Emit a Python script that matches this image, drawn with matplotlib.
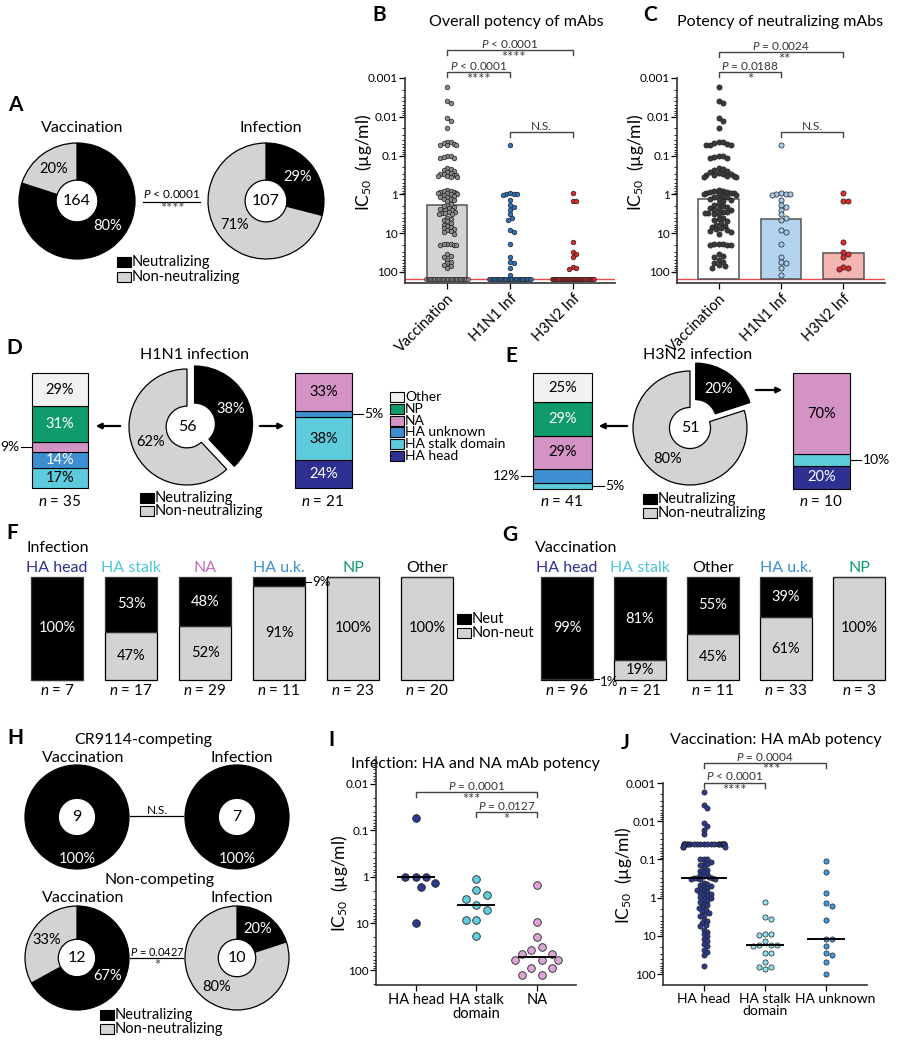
import numpy as np
import matplotlib
matplotlib.use('Agg')
import matplotlib.pyplot as plt
from matplotlib.patches import Rectangle, FancyArrowPatch
from matplotlib.lines import Line2D
from matplotlib.ticker import LogLocator, NullFormatter
from matplotlib.transforms import ScaledTranslation

plt.rcParams['font.family'] = ['Lato', 'DejaVu Sans']
plt.rcParams['mathtext.fontset'] = 'custom'
plt.rcParams['mathtext.rm'] = 'Lato'
plt.rcParams['mathtext.it'] = 'Lato:italic'

# ---------------- data ----------------
# A: all mAbs
a_groups = ['Vaccination', 'Infection']
a_total = [164, 107]
a_neut = [80, 29]

# B / C: IC50 (ug/ml); non-neutralizing mAbs sit on the floor value
groups_bc = ['Vaccination', 'H1N1 Inf', 'H3N2 Inf']
floor_ic50 = 150
vacc_neut = [0.0017, 0.004, 0.0044, 0.011, 0.0126, 0.019,
             0.044, 0.046, 0.048, 0.05, 0.052, 0.053, 0.055,
             0.1, 0.105, 0.11, 0.115, 0.118,
             0.21, 0.22, 0.24, 0.25, 0.27, 0.28, 0.3, 0.3, 0.31, 0.32, 0.33, 0.34, 0.35, 0.35,
             0.75, 0.8, 0.82, 0.85, 0.88, 0.9, 0.92, 0.95, 1.0, 1.0, 1.05, 1.1, 1.15, 1.2, 1.3, 1.35, 1.4, 1.5,
             1.8, 1.9, 2.0, 2.1, 2.3, 2.4, 2.5, 2.6, 2.8, 2.9, 3.0, 3.1, 3.2, 3.3,
             4.0, 4.3, 4.6, 5.0, 5.5, 6.0, 6.5, 7.0, 7.5, 8.0, 8.5, 9.0, 9.5, 10.5,
             19, 19, 19.5, 20, 20, 20.5,
             35, 38, 42, 48, 55, 60, 66, 72, 78]
h1n1_neut = [0.055, 0.95, 1.0, 1.0, 1.0, 1.05, 1.4, 1.9, 2.1, 2.5, 3.3, 4.0, 4.7,
             8.5, 9.3, 19.5, 41, 55, 60, 80, 120]
h3n2_neut = [0.95, 1.45, 1.5, 17, 30, 35, 42, 73, 80, 85]
n_nonneut = [33, 35, 41]
b_bar = [1.9, 150, 150]
c_bar = [1.3, 4.2, 33]

# D / E: specificity breakdown (%), bottom to top
d_total, d_neut = 56, 38
d_non_cats = ['HA stalk domain', 'HA unknown', 'NA', 'NP', 'Other']
d_non_pct = [17, 14, 9, 31, 29]
d_neu_cats = ['HA head', 'HA stalk domain', 'HA unknown', 'NA']
d_neu_pct = [24, 38, 5, 33]
e_total, e_neut = 51, 20
e_non_cats = ['HA stalk domain', 'HA unknown', 'NA', 'NP', 'Other']
e_non_pct = [5, 12, 29, 29, 25]
e_neu_cats = ['HA head', 'HA stalk domain', 'NA']
e_neu_pct = [20, 10, 70]

# F / G: % neutralizing by specificity
f_cats = ['HA head', 'HA stalk', 'NA', 'HA u.k.', 'NP', 'Other']
f_neut = [100, 53, 48, 9, 0, 0]
f_n = [7, 17, 29, 11, 23, 20]
g_cats = ['HA head', 'HA stalk', 'Other', 'HA u.k.', 'NP']
g_neut = [99, 81, 55, 39, 0]
g_n = [96, 21, 11, 33, 3]

# H
h_comp_total = [9, 7]
h_comp_neut = [100, 100]
h_non_total = [12, 10]
h_non_neut = [67, 20]

# I: infection IC50
i_groups = ['HA head', 'HA stalk\ndomain', 'NA']
i_head = [0.055, 1.0, 1.0, 1.0, 1.34, 1.64, 10]
i_stalk = [1.1, 1.96, 2.4, 3.0, 4.1, 5.1, 8.4, 8.4, 18.4]
i_na = [1.5, 9.3, 20, 32, 38, 45, 45, 60, 60, 60, 90, 90, 130, 130]

# J: vaccination IC50
j_groups = ['HA head', 'HA stalk\ndomain', 'HA unknown']
j_head = [0.0017, 0.0038, 0.0044, 0.011, 0.013, 0.017, 0.022,
          0.04, 0.04, 0.04, 0.04, 0.04, 0.04, 0.04, 0.04, 0.04, 0.04, 0.04,
          0.04, 0.04, 0.04, 0.04, 0.04, 0.04, 0.04, 0.04, 0.04, 0.04, 0.04,
          0.046, 0.047, 0.048, 0.1, 0.1, 0.1, 0.12, 0.13, 0.13, 0.14,
          0.17, 0.19, 0.2, 0.22, 0.24, 0.25,
          0.28, 0.29, 0.3, 0.3, 0.31, 0.32, 0.32, 0.33,
          0.41, 0.44, 0.47, 0.5, 0.53, 0.56, 0.59, 0.62,
          0.68, 0.72, 0.76, 0.8, 0.85, 0.9, 0.95, 1.0,
          1.1, 1.2, 1.3, 1.45, 1.6, 1.75, 1.9,
          2.1, 2.3, 2.5, 2.8, 3.0, 3.8, 4.2, 4.6, 5.1, 5.6,
          6.9, 7.8, 8.8, 10, 12, 14, 16, 19, 23, 27, 31, 63]
j_stalk = [1.3, 3.2, 3.6, 9.1, 9.1, 9.5, 14, 17, 17, 17.5, 18, 29, 29, 48, 64, 64, 76]
j_unk = [0.107, 0.22, 0.74, 1.4, 1.7, 3.9, 12.3, 12.3, 18.6, 29, 32, 48, 101]

# ---------------- styles ----------------
BLACK = '#000000'
GRAY = '#d1d3d4'
CAT_COLOR = {'Other': '#f1f1f2', 'NP': '#0f9b6e', 'NA': '#d393c5',
             'HA unknown': '#3d8fd1', 'HA stalk domain': '#5ecbdc', 'HA head': '#2e3192'}
CAT_TXT = {'HA head': '#2e3192', 'HA stalk': '#4fc5da', 'NA': '#c66bb4',
           'HA u.k.': '#3d8fd1', 'NP': '#0f9b6e', 'Other': 'black'}

W, H = 898, 1042
fig = plt.figure(figsize=(W / 100, H / 100), dpi=100)


def box(x0, y0, x1, y1):
    return fig.add_axes([x0 / W, 1 - y1 / H, (x1 - x0) / W, (y1 - y0) / H])


def ft(x, y, s, **kw):
    kw.setdefault('ha', 'center')
    kw.setdefault('va', 'center')
    return fig.text(x / W, 1 - y / H, s, **kw)


def hline(x0, x1, y, color='black', lw=0.9):
    fig.add_artist(Line2D([x0 / W, x1 / W], [1 - y / H, 1 - y / H],
                          transform=fig.transFigure, color=color, lw=lw))


def arrow(x0, x1, y):
    fig.add_artist(FancyArrowPatch((x0 / W, 1 - y / H), (x1 / W, 1 - y / H),
                                   transform=fig.transFigure, arrowstyle='-|>',
                                   mutation_scale=8, lw=1.6, color='black'))


def legend(x, y, items, dy, fs=10.5):
    for k, (label, color) in enumerate(items):
        yy = y + k * dy
        fig.patches.append(Rectangle((x / W, 1 - (yy + 5) / H), 14 / W, 10 / H,
                                     transform=fig.transFigure, fc=color, ec='black', lw=0.8))
        ft(x + 15, yy, label, ha='left', fontsize=fs)


def letter(x, y, s):
    ft(x, y, s, fontsize=15, fontweight='bold')


def donut(cx, cy, r, fracs, colors, center, txt_colors, explode=None,
          label_r=0.68, angles=None, width=0.64):
    pad = 1.3
    ax = box(cx - r * pad, cy - r * pad, cx + r * pad, cy + r * pad)
    wedges, _ = ax.pie(fracs, colors=colors, startangle=90, counterclock=False,
                       explode=explode, radius=1,
                       wedgeprops=dict(width=width, edgecolor='black', linewidth=0.9))
    for w in wedges:
        w.set_clip_on(False)
    ax.set_xlim(-pad, pad)
    ax.set_ylim(-pad, pad)
    ax.set_aspect('equal')
    ax.axis('off')
    ax.text(0, 0, center, ha='center', va='center', fontsize=11.5)
    total = float(sum(fracs))
    cum = 0
    for i, f in enumerate(fracs):
        if f > 0:
            ang = 90 - 360 * (cum + f / 2) / total
            if angles is not None and angles[i] is not None:
                ang = angles[i]
            rr = label_r + (explode[i] if explode else 0)
            ax.text(rr * np.cos(np.radians(ang)), rr * np.sin(np.radians(ang)),
                    f'{f:g}%', color=txt_colors[i], ha='center', va='center', fontsize=10.5)
        cum += f
    return ax


def stack(x0, y0, x1, y1, cats, pcts, modes):
    ax = box(x0, y0, x1, y1)
    bottom = 0
    for c, p, m in zip(cats, pcts, modes):
        ax.bar(0.5, p, width=1, bottom=bottom, color=CAT_COLOR[c], edgecolor='black',
               lw=0.8, clip_on=False)
        mid = bottom + p / 2
        if m == 'L':
            ax.plot([-0.2, 0], [mid, mid], color='black', lw=0.8, clip_on=False)
            ax.text(-0.22, mid, f'{p}%', ha='right', va='center', fontsize=10)
        elif m == 'R':
            ax.plot([1, 1.2], [mid, mid], color='black', lw=0.8, clip_on=False)
            ax.text(1.22, mid, f'{p}%', ha='left', va='center', fontsize=10)
        else:
            ax.text(0.5, mid, f'{p}%', ha='center', va='center', fontsize=10.5,
                    color='white' if m == 'w' else 'black')
        bottom += p
    ax.set_xlim(0, 1)
    ax.set_ylim(0, 100)
    ax.axis('off')
    return ax


def neut_bars(x0, y0, x1, y1, cats, neut, ns, width):
    ax = box(x0, y0, x1, y1)
    xs = np.arange(len(cats))
    non = [100 - v for v in neut]
    ax.bar(xs, non, width=width, color=GRAY, edgecolor='black', lw=0.9, clip_on=False)
    ax.bar(xs, neut, width=width, bottom=non, color=BLACK, edgecolor='#333', lw=0.9,
           clip_on=False)
    hw = width / 2
    for i in xs:
        if neut[i] >= 15:
            ax.text(i, 100 - neut[i] / 2, f'{neut[i]}%', color='white', ha='center',
                    va='center', fontsize=10.5)
        elif neut[i] > 0:
            ax.plot([i + hw, i + hw + 0.08], [100 - neut[i] / 2] * 2, color='black', lw=0.8,
                    clip_on=False)
            ax.text(i + hw + 0.09, 100 - neut[i] / 2, f'{neut[i]}%', ha='left',
                    va='center', fontsize=9.5)
        if non[i] >= 15:
            ax.text(i, non[i] / 2, f'{non[i]}%', color='black', ha='center',
                    va='center', fontsize=10.5)
        elif non[i] > 0:
            ax.plot([i + hw, i + hw + 0.08], [non[i] / 2] * 2, color='black', lw=0.8,
                    clip_on=False)
            ax.text(i + hw + 0.09, -2, f'{non[i]}%', ha='left', va='center', fontsize=9.5)
        ax.text(i, 109, cats[i], color=CAT_TXT[cats[i]], ha='center', va='center',
                fontsize=11.5)
        ax.text(i, -10.5, f'$n$ = {ns[i]}', ha='center', va='center', fontsize=11)
    ax.set_xlim(-0.5, len(cats) - 0.5)
    ax.set_ylim(0, 100)
    ax.axis('off')
    return ax


def swarm(vals, ppd, ppu, dot_px, cap_px):
    # simple beeswarm in pixel space, outer points squeezed toward cap_px
    y = np.log10(np.asarray(vals, float)) * ppd
    order = np.argsort(y)
    px, py = [], []
    off = np.zeros(len(y))
    step = dot_px * 0.5
    for i in order:
        k = 0
        while True:
            cand = step * ((k + 1) // 2) * (1 if k % 2 else -1)
            if all((cand - a) ** 2 + (y[i] - b) ** 2 >= dot_px ** 2 for a, b in zip(px, py)):
                break
            k += 1
        px.append(cand)
        py.append(y[i])
        off[i] = cand
    off = cap_px * np.tanh(off / cap_px)
    return off / ppu


def log_axis(ax, ylo, yhi, ticks, labels, xlim, xlabels, rot, xfs=10.5):
    ax.set_yscale('log')
    ax.set_ylim(ylo, yhi)
    ax.set_yticks(ticks)
    ax.set_yticklabels(labels, fontsize=8.5)
    ax.yaxis.set_minor_locator(LogLocator(base=10, subs=np.arange(2, 10)))
    ax.yaxis.set_minor_formatter(NullFormatter())
    ax.set_xlim(*xlim)
    ax.set_xticks(range(len(xlabels)))
    if rot:
        ax.set_xticklabels(xlabels, rotation=45, ha='right', rotation_mode='anchor',
                           fontsize=xfs)
    else:
        ax.set_xticklabels(xlabels, fontsize=xfs, linespacing=1.0)
    for s in ['top', 'right']:
        ax.spines[s].set_visible(False)
    for s in ['left', 'bottom']:
        ax.spines[s].set_linewidth(1.2)
        ax.spines[s].set_color('#333')
    ax.tick_params(axis='y', which='major', length=4, width=0.9, pad=1)
    ax.tick_params(axis='y', which='minor', length=2, width=0.6)
    ax.tick_params(axis='x', length=4, width=0.9, pad=2)
    ax.patch.set_alpha(0)


def bracket(ax, i0, i1, y_px, top=None, bot=None, bot_dx=0.0):
    pos = ax.get_position()

    def fr(y):
        return ((1 - y / H) - pos.y0) / pos.height
    tr = ax.get_xaxis_transform()
    ax.plot([i0, i0, i1, i1], [fr(y_px + 5), fr(y_px), fr(y_px), fr(y_px + 5)],
            transform=tr, color='#444', lw=1, clip_on=False)
    xm = (i0 + i1) / 2
    if top:
        ax.text(xm, fr(y_px - 0.5), top, transform=tr, ha='center', va='bottom',
                fontsize=8.5, color='#333')
    if bot:
        ax.text(xm + bot_dx, fr(y_px + 0.5), bot, transform=tr, ha='center', va='top',
                fontsize=10.5, color='#444')


IC50 = r'IC$_{50}$  (µg/ml)'

# ---------------- A ----------------
letter(15, 105, 'A')
for cx, name, tot, nv in zip([77, 266], a_groups, a_total, a_neut):
    ft(cx + 5, 128, name, fontsize=11.5)
    donut(cx, 201, 58, [nv, 100 - nv], [BLACK, GRAY], str(tot), ['white', 'black'],
          angles=[-40 if nv > 50 else None, None])
ft(172, 194, r'$P$ < 0.0001', fontsize=8.5)
hline(143, 200, 202)
ft(172, 209, '****', fontsize=10.5, color='#444')
legend(117, 262, [('Neutralizing', BLACK), ('Non-neutralizing', GRAY)], 15)

# ---------------- B / C ----------------
for (x0, x1, title, tx, lx, lt, bars, pal, bar_cols, dot_px, cap, wide) in [
        (405, 615, 'Overall potency of mAbs', 516, 364, 'B', b_bar,
         ['#8a8a8a', '#2f72c0', '#e3262b'], ['#d1d3d4', 'none', 'none'], 3.6, 13, True),
        (677, 885, 'Potency of neutralizing mAbs', 780, 635, 'C', c_bar,
         ['#3a3a3a', '#a5c9ea', '#e02a2a'], ['white', '#b3d3ee', '#f5b5b3'], 4.6, 22, False)]:
    ax = box(x0, 78, x1, 283)
    ppu = (x1 - x0) / 3.333
    ppd = 38.8
    log_axis(ax, 193, 0.001, [0.001, 0.01, 0.1, 1, 10, 100],
             ['0.001', '0.01', '0.1', '1', '10', '100'], (-0.667, 2.667), groups_bc, True)
    ax.axhline(floor_ic50, color='#ef4a4a', lw=1, zorder=1)
    for i, h in enumerate(bars):
        if h < floor_ic50:
            ax.bar(i, h - floor_ic50, bottom=floor_ic50, width=0.65, color=bar_cols[i],
                   edgecolor='#555', lw=1.1, zorder=2)
    for i, vals in enumerate([vacc_neut, h1n1_neut, h3n2_neut]):
        off = swarm(vals, ppd, ppu, dot_px, cap)
        ax.scatter(i + off, vals, s=11 if wide else 14, color=pal[i], edgecolors='#222',
                   linewidths=0.5, zorder=3, clip_on=False)
        if wide:
            fl = np.linspace(-0.33, 0.33, n_nonneut[i])
            ax.scatter(i + fl, [floor_ic50] * n_nonneut[i], s=9, color=pal[i],
                       edgecolors='#222', linewidths=0.4, zorder=3, clip_on=False)
    letter(lx + 15, 15, lt)
    ft(tx, 22, title, fontsize=11.5)
    ft(lx, 162, IC50, rotation=90, fontsize=12.5)
    if wide:
        bracket(ax, 0, 2, 50, r'$P$ < 0.0001', '****', bot_dx=0.06)
        bracket(ax, 0, 1, 72, r'$P$ < 0.0001', '****')
    else:
        bracket(ax, 0, 2, 52, r'$P$ = 0.0024', '**', bot_dx=0.05)
        bracket(ax, 0, 1, 72, r'$P$ = 0.0188', '*')
    bracket(ax, 1, 2, 132, 'N.S.')

# ---------------- D ----------------
letter(14, 348, 'D')
ft(195, 355, 'H1N1 infection', fontsize=11.5)
donut(187, 427, 58, [d_neut, 100 - d_neut], [BLACK, GRAY], str(d_total),
      ['white', 'black'], explode=[0.14, 0])
stack(32, 373, 88, 488, d_non_cats, d_non_pct, ['k', 'w', 'L', 'w', 'k'])
stack(295, 373, 352, 488, d_neu_cats, d_neu_pct, ['w', 'k', 'R', 'k'])
d_n_neu = round(d_total * d_neut / 100)
ft(60, 501, f'$n$ = {d_total - d_n_neu}', fontsize=11)
ft(323, 501, f'$n$ = {d_n_neu}', fontsize=11)
arrow(123, 93, 426)
arrow(257, 287, 426)
legend(140, 498, [('Neutralizing', BLACK), ('Non-neutralizing', GRAY)], 13)
legend(390, 397, [(c, CAT_COLOR[c]) for c in
                  ['Other', 'NP', 'NA', 'HA unknown', 'HA stalk domain', 'HA head']], 11.8,
       fs=10)

# ---------------- E ----------------
letter(511, 356, 'E')
ft(698, 355, 'H3N2 infection', fontsize=11.5)
donut(690, 428, 57, [e_neut, 100 - e_neut], [BLACK, GRAY], str(e_total),
      ['white', 'black'], explode=[0.17, 0])
stack(533, 373, 592, 489, e_non_cats, e_non_pct, ['R', 'L', 'k', 'w', 'k'])
stack(793, 373, 850, 489, e_neu_cats, e_neu_pct, ['w', 'R', 'k'])
e_n_neu = round(e_total * e_neut / 100)
ft(562, 501, f'$n$ = {e_total - e_n_neu}', fontsize=11)
ft(821, 501, f'$n$ = {e_n_neu}', fontsize=11)
arrow(630, 596, 426)
arrow(753, 785, 390)
legend(643, 499, [('Neutralizing', BLACK), ('Non-neutralizing', GRAY)], 14)

# ---------------- F / G ----------------
letter(12, 533, 'F')
ft(27, 548, 'Infection', ha='left', fontsize=11.5)
neut_bars(20, 577, 464, 680, f_cats, f_neut, f_n, 0.716)
legend(457, 619, [('Neut', BLACK), ('Non-neut', GRAY)], 14)
letter(510, 535, 'G')
ft(535, 548, 'Vaccination', ha='left', fontsize=11.5)
neut_bars(530.5, 577, 895.5, 680, g_cats, g_neut, g_n, 0.726)

# ---------------- H ----------------
letter(15, 738, 'H')
ft(143, 740, 'CR9114-competing', fontsize=11.5)
ft(83, 758, 'Vaccination', fontsize=11.5)
ft(242, 758, 'Infection', fontsize=11.5)
for cx, tot, nv in zip([77, 237], h_comp_total, h_comp_neut):
    donut(cx, 817, 52, [nv, 100 - nv], [BLACK, GRAY], str(tot), ['white', 'black'],
          label_r=0.8)
hline(130, 183, 816)
ft(157, 811, 'N.S.', fontsize=8.5)
ft(160, 880, 'Non-competing', fontsize=11.5)
ft(83, 898, 'Vaccination', fontsize=11.5)
ft(242, 898, 'Infection', fontsize=11.5)
for cx, tot, nv in zip([77, 237], h_non_total, h_non_neut):
    donut(cx, 958, 52, [nv, 100 - nv], [BLACK, GRAY], str(tot), ['white', 'black'])
hline(130, 183, 958)
ft(157, 952, r'$P$ = 0.0427', fontsize=8)
ft(157, 966, '*', fontsize=10.5, color='#444')
legend(100, 1015, [('Neutralizing', BLACK), ('Non-neutralizing', GRAY)], 14)

# ---------------- I ----------------
letter(331, 740, 'I')
ft(475, 764, 'Infection: HA and NA mAb potency', fontsize=11.5)
ax = box(376, 757, 576, 985)
log_axis(ax, 209, 0.0027, [0.01, 0.1, 1, 10, 100], ['0.01', '0.1', '1', '10', '100'],
         (-0.66, 2.65), i_groups, False, xfs=10.5)
for i, (vals, col) in enumerate(zip([i_head, i_stalk, i_na],
                                    ['#2b3a8f', '#5fd0e0', '#dba5d6'])):
    off = swarm(vals, 46.7, 60.5, 11, 30)
    ax.scatter(i + off, vals, s=30, color=col, edgecolors='#222', linewidths=0.6,
               zorder=3, clip_on=False)
    ax.plot([i - 0.3, i + 0.3], [np.median(vals)] * 2, color='black', lw=1.4, zorder=4)
bracket(ax, 0, 2, 792, r'$P$ = 0.0001', '***', bot_dx=-0.08)
bracket(ax, 1, 2, 812, r'$P$ = 0.0127', '*')
ft(340, 883, IC50, rotation=90, fontsize=12.5)

# ---------------- J ----------------
letter(625, 743, 'J')
ft(776, 740, 'Vaccination: HA mAb potency', fontsize=11.5)
ax = box(663, 783, 867, 985)
log_axis(ax, 194, 0.001, [0.001, 0.01, 0.1, 1, 10, 100],
         ['0.001', '0.01', '0.1', '1', '10', '100'], (-0.67, 2.67), j_groups, False,
         xfs=10)
for i, (vals, col) in enumerate(zip([j_head, j_stalk, j_unk],
                                    ['#2b3a8f', '#8fe3ee', '#3d9ae0'])):
    off = swarm(vals, 38.2, 61, 3.6 if i == 0 else 6.5, 21)
    ax.scatter(i + off, vals, s=14, color=col, edgecolors='#222', linewidths=0.5,
               zorder=3, clip_on=False)
    hw = 0.36 if i == 0 else 0.3
    ax.plot([i - hw, i + hw], [np.median(vals)] * 2, color='black', lw=1.4, zorder=4)
bracket(ax, 0, 2, 763, r'$P$ = 0.0004', '***', bot_dx=0.1)
bracket(ax, 0, 1, 783, r'$P$ < 0.0001', '****')
ft(623, 875, IC50, rotation=90, fontsize=12.5)
lab = ax.get_xticklabels()[2]
lab.set_transform(lab.get_transform() + ScaledTranslation(9 / 100, 0, fig.dpi_scale_trans))

fig.savefig('out.png', dpi=100)
